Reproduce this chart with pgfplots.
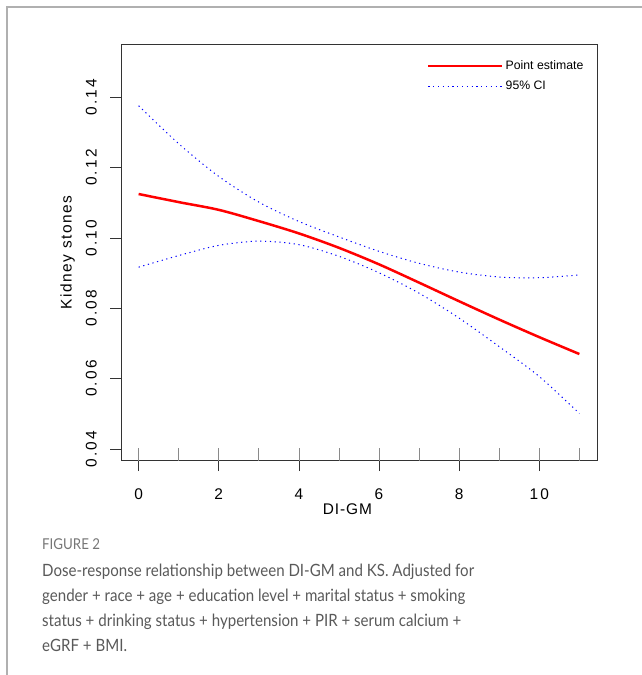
\documentclass[border=0pt]{standalone}
\usepackage{fontspec}
\setmainfont{Liberation Sans}
\newfontfamily\capfont[FakeStretch=0.89]{Lato}
\usepackage{pgfplots}
\pgfplotsset{compat=1.18}
\definecolor{capgray}{HTML}{595959}
\definecolor{figgray}{HTML}{767676}
\definecolor{framegray}{HTML}{B0B0B0}
\definecolor{axgray}{HTML}{333333}
\definecolor{ruggray}{HTML}{8A8A8A}

\begin{document}
\begin{tikzpicture}
\path[use as bounding box] (0,0) rectangle (642bp,675bp);
\draw[framegray, line width=1.3bp] (7bp,0) -- (7bp,668bp) -- (642bp,668bp);
\begin{axis}[
  at={(121bp,214.3bp)}, anchor=south west,
  scale only axis, width=476bp, height=416bp,
  xmin=-0.44, xmax=11.44, ymin=0.03667, ymax=0.15496,
  axis line style={axgray, line width=0.8bp},
  xtick={0,2,4,6,8,10}, xticklabels={0,2,4,6,8,10},
  ytick={0.04,0.06,0.08,0.10,0.12,0.14},
  yticklabels={0.04,0.06,0.08,0.10,0.12,0.14},
  xtick pos=bottom, ytick pos=left,
  tick align=outside, major tick length=10.5bp,
  tick style={axgray, line width=0.8bp},
  extra x ticks={0,1,2,3,4,5,6,7,8,9,10,11},
  extra x tick labels={},
  extra x tick style={tick align=inside, major tick length=12.5bp, tick style={ruggray, line width=0.8bp}},
  /pgf/number format/assume math mode=true,
  tick label style={font=\fontsize{15.5}{18}\selectfont\addfontfeature{LetterSpace=14}},
  xticklabel style={anchor=base, inner sep=0pt, yshift=-28bp},
  yticklabel style={rotate=90, anchor=base, inner sep=0pt, yshift=14bp},
  xlabel={DI-GM},
  xlabel style={at={(axis description cs:0.4756,0)}, anchor=base, yshift=-53.8bp, inner sep=0pt, font=\fontsize{15.5}{18}\selectfont\addfontfeature{LetterSpace=6}},
  ylabel={Kidney stones},
  ylabel style={at={(axis description cs:0,0.5)}, anchor=base, yshift=49.3bp, inner sep=0pt, font=\fontsize{15.5}{18}\selectfont\addfontfeature{LetterSpace=10}},
  legend style={at={(axis description cs:0.6429,0.967)}, anchor=north west, draw=none, fill=none,
    font=\fontsize{12.3}{14}\selectfont, row sep=6bp, inner sep=0pt},
  legend cell align=left,
  legend image code/.code={\draw[#1] (0bp,0bp) -- (65bp,0bp); \path (0bp,0bp) -- (74bp,0bp);},
]
\addplot[red, line width=2.5bp, smooth] coordinates {
(0,0.1125) (1,0.1102) (2,0.1080) (3,0.1048) (4,0.1013) (5,0.0972)
(6,0.0925) (7,0.0873) (8,0.0820) (9,0.0768) (10,0.0718) (11,0.0670)};
\addlegendentry{Point estimate}
\addplot[blue, line width=1bp, dash pattern=on 1.2bp off 3.6bp, smooth] coordinates {
(0,0.1376) (1,0.1268) (2,0.1175) (3,0.1102) (4,0.1047) (5,0.1003)
(6,0.0962) (7,0.0928) (8,0.0903) (9,0.0889) (10,0.0887) (11,0.0895)};
\addlegendentry{95\% CI}
\addplot[blue, line width=1bp, dash pattern=on 1.2bp off 3.6bp, smooth, forget plot] coordinates {
(0,0.0917) (1,0.0950) (2,0.0979) (3,0.0991) (4,0.0981) (5,0.0948)
(6,0.0901) (7,0.0843) (8,0.0772) (9,0.0691) (10,0.0606) (11,0.0501)};
\end{axis}
\node[anchor=base west, inner sep=0pt, font=\capfont\fontsize{15}{17}\selectfont, text=figgray] at (42bp,125bp) {FIGURE 2};
\begin{scope}[every node/.style={anchor=base west, inner sep=0pt, font=\capfont\fontsize{17}{20}\selectfont, text=capgray}]
\node at (42bp,98.3bp) {Dose-response relationship between DI-GM and KS. Adjusted for};
\node at (42bp,73.3bp) {gender + race + age + education level + marital status + smoking};
\node at (42bp,48.3bp) {status + drinking status + hypertension + PIR + serum calcium +};
\node at (42bp,23.3bp) {eGRF + BMI.};
\end{scope}
\end{tikzpicture}
\end{document}
